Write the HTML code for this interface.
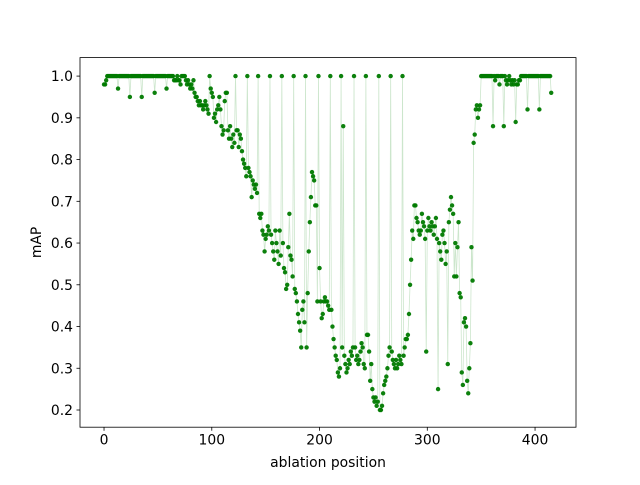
<!DOCTYPE html>
<html><head><meta charset="utf-8"><style>
html,body{margin:0;padding:0;background:#fff;}
svg text{font-family:"DejaVu Sans","Liberation Sans",sans-serif;font-size:13.9px;fill:#000;}
</style></head><body>
<svg id="chart" width="640" height="480" viewBox="0 0 640 480" xmlns="http://www.w3.org/2000/svg">
<rect width="640" height="480" fill="#fff"/>
<g id="plot"></g>
<g id="axes"></g>
</svg>
<script>
const xTicks = [0, 100, 200, 300, 400];
const yTicks = [0.2, 0.3, 0.4, 0.5, 0.6, 0.7, 0.8, 0.9, 1.0];
const yTickLabels = ["0.2","0.3","0.4","0.5","0.6","0.7","0.8","0.9","1.0"];
const mapValues = [
.98,.98,.99,1,1,1,1,1,1,1,
1,1,1,.97,1,1,1,1,1,1,
1,1,1,1,.95,1,1,1,1,1,
1,1,1,1,1,.95,1,1,1,1,
1,1,1,1,1,1,1,.96,1,1,
1,1,1,1,1,1,1,1,.97,1,
1,1,1,1,1,.99,.99,.99,1,.99,
.99,.98,1,1,1,1,.99,.98,.99,.98,
.97,.98,.97,.99,.96,.95,.95,.94,.93,.94,
.93,.93,.92,.93,.94,.93,.92,.91,1.0,.97,
.96,.95,.90,.91,.89,.92,.93,.95,.92,.88,
.86,.87,.94,.96,.96,.87,.85,.88,.85,.83,
.86,.84,1.0,.87,.87,.83,.86,.85,.82,.80,
.79,.78,.76,1.0,.78,.77,.76,.71,.75,.74,
.73,.74,.72,1.0,.67,.66,.67,.63,.62,.58,
.61,.62,.64,.63,1.0,.62,.60,.58,.56,.63,
.60,.58,.55,.63,.57,1.0,.60,.54,.53,.49,
.50,.59,.67,.57,.56,.52,1.0,.49,.48,.46,
.43,.41,.39,.35,.44,.46,.41,1.0,.35,.48,
.58,.65,.71,.77,.76,.75,.69,.69,.46,1.0,
.54,.46,.42,.43,.46,.47,.46,.46,.45,.44,
1.0,.44,.40,.37,.35,.33,.32,.29,.28,.30,
1.0,.35,.88,.33,.31,.29,.30,.32,.31,.34,
.33,.35,1.0,.35,.32,.33,.31,.32,.34,.36,
.35,.31,.30,1.0,.38,.38,.34,.27,.31,.25,
.23,.22,.23,.21,.22,1.0,.20,.20,.21,.24,
.26,.27,.28,.30,.33,.35,1.0,.34,.32,.31,
.30,.32,.30,.31,.33,.32,.31,1.0,.33,.35,
.37,.37,.38,.43,.50,.56,.63,.61,.69,.69,
.66,.65,.63,.62,.63,.67,.65,.64,.61,.34,
.63,.66,.64,.63,.65,.64,.62,.64,.66,.61,
.25,.60,.58,.56,.62,.63,.60,.55,.58,.31,
.65,.68,.71,.69,.67,.52,.60,.52,.59,.65,
.48,.47,.29,.26,.41,.42,.40,.27,.24,.30,
.36,.59,.51,.84,.86,.92,.93,.90,.92,.93,
1,1,1,1,1,1,1,1,1,1,
1,.88,1,.99,1,1,1,.98,1,1,
1,.88,1,.99,.98,.99,1,.99,.98,.99,
.98,.99,.89,.98,.98,.99,.99,1,1,1,
1,1,1,.92,1,1,1,1,1,1,
1,1,1,1,.92,1,1,1,1,1,
1,1,1,1,1,.96
];

const L=80,R=576,T=57.6,B=427.2;
const xMin=-22.3, xMax=438.0, yMin=0.1588, yMax=1.0443;
function sx(v){return L+(v-xMin)/(xMax-xMin)*(R-L);}
function sy(v){return B-(v-yMin)/(yMax-yMin)*(B-T);}
const NS="http://www.w3.org/2000/svg";
const plot=document.getElementById('plot');
const axes=document.getElementById('axes');
function mk(tag,attrs,parent){const e=document.createElementNS(NS,tag);for(const k in attrs)e.setAttribute(k,attrs[k]);parent.appendChild(e);return e;}

let d="";
mapValues.forEach((v,i)=>{d+=(i?"L":"M")+sx(i).toFixed(2)+","+sy(v).toFixed(2);});
const line=mk('path',{d:d,fill:"none",stroke:"#008000","stroke-opacity":"0.2","stroke-width":"0.8"},plot);


mapValues.forEach((v,i)=>{
  const c=mk('circle',{cx:sx(i).toFixed(2),cy:sy(v).toFixed(2),r:"2.2",fill:"#007a00","fill-opacity":"0.95"},plot);
  
  
});

const frame=mk('rect',{x:L,y:T,width:R-L,height:B-T,fill:"none",stroke:"#000","stroke-width":"0.8"},axes);


xTicks.forEach(t=>{
  const x=sx(t);
  const tk=mk('line',{x1:x,x2:x,y1:B,y2:B+3.5,stroke:"#000","stroke-width":"0.8"},axes);
  
  
  const tx=mk('text',{x:x,y:B+17.5,"text-anchor":"middle"},axes);
  tx.textContent=String(t);
  
  
});
yTicks.forEach((t,i)=>{
  const y=sy(t);
  const tk=mk('line',{x1:L-3.5,x2:L,y1:y,y2:y,stroke:"#000","stroke-width":"0.8"},axes);
  
  
  const tx=mk('text',{x:L-7,y:y+5,"text-anchor":"end"},axes);
  tx.textContent=yTickLabels[i];
  
  
});
const xl=mk('text',{x:(L+R)/2,y:467,"text-anchor":"middle"},axes);
xl.textContent="ablation position";


const yl=mk('text',{x:0,y:0,"text-anchor":"middle",transform:"translate(41,"+((T+B)/2)+") rotate(-90)"},axes);
yl.textContent="mAP";


</script>
</body></html>
